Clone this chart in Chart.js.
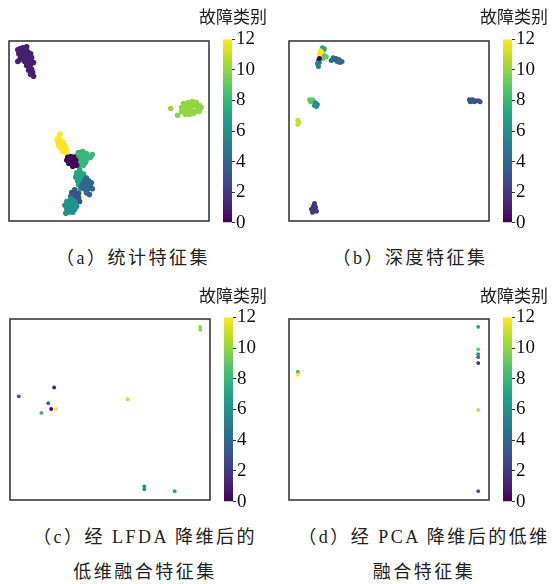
<!DOCTYPE html>
<html>
<head>
<meta charset="utf-8">
<script src="https://cdn.jsdelivr.net/npm/chart.js@4.4.1/dist/chart.umd.min.js"></script>
<style>
  body { margin: 0; background: #fff; width: 552px; height: 584px; position: relative; overflow: hidden; }
  canvas { position: absolute; }
  .cap { position: absolute; font-family: "Liberation Serif", "Times New Roman", "Noto Sans CJK SC", serif; font-size: 18px;
         line-height: 20px; color: #222; letter-spacing: 2.5px; white-space: nowrap; transform: translateX(-50%); }
  .cbt { position: absolute; font-family: "Noto Sans CJK SC", sans-serif; font-size: 17px; line-height: 20px;
         color: #222; white-space: nowrap; transform: translateX(-50%); }
</style>
</head>
<body>
<script>
// [x, y, fault class]
const statPoints = [
  [5.5,88,1],[7,88.5,1],[8.5,88,1],[6,86.5,1],[7.5,86.5,1],[9.5,86.5,1],[6.5,85,1],[8,85,1],[10,84.5,1],
  [7,83.5,1],[8.5,83,1],[10.5,82.5,1],[8,81.5,1],[9.5,81,1],[11,80,1],[9,79.5,1],[10.5,78.5,1],[11.5,77.5,1],
  [10,77,1],[12,76,1],[12.5,74,1],[4.5,81.5,1],[5.5,82.5,1],[11,75,1],[4.5,87.5,1],[5,85.5,1],[6,84,1],
  [9,89,1],[11,85.5,1],[11.5,83.5,1],[12.5,81,1],
  [89.5,59.5,10],[91.5,60.5,10],[93.5,61,10],[95.5,60.5,10],[97,59,10],[90.5,58,10],[92.5,58.5,10],[94.5,59,10],
  [96.5,57.5,10],[98,58,10],[89,56.5,10],[91,56,10],[93,56.5,10],[95,56,10],[97,56,10],[90,54.5,10],[92,54.5,10],
  [94,55,10],[88,58,10],[82.5,57.5,10],[86,54,10],[88,56,10],[89,60,10],
  [25.5,43,12],[24.5,41.5,12],[26,41.5,12],[25,40,12],[26.5,40,12],[27.5,40.5,12],[25.5,38.5,12],[27,38.5,12],
  [28.5,38.5,12],[26.5,37,12],[28,37,12],[29.5,36.5,12],[27.5,35.5,12],[29,35,12],[26,44.5,12],
  [35.5,35,8],[37.5,35.5,8],[39.5,34.5,8],[34.5,33.5,8],[36.5,33.5,8],[38.5,33,8],[40.5,33,8],[35.5,31.5,8],
  [37.5,31.5,8],[39.5,31.5,8],[41.5,32.5,8],[35,30,8],[37,30,8],[39,30,8],[36,28.5,8],[38,28.5,8],[42.5,34,8],[33.5,32,8],
  [30,32.5,0],[31.5,33,0],[33,32.5,0],[29.5,31,0],[31,31,0],[32.5,31,0],[34,31,0],[30.5,29.5,0],[32,29.5,0],
  [33.5,29.5,0],[32.5,28,0],[34.5,28.5,0],
  [36,26,7],[34.5,24.5,7],[36.5,24.5,7],[38,24,7],[34,22.5,7],[36,22.5,7],[38,22,7],[35,20.5,7],[37,20.5,7],
  [39,20,7],[35.5,18.5,7],[37.5,18,7],[36.5,16.5,7],
  [39.5,22,4],[38.5,20.5,4],[40.5,20.5,4],[42,19.5,4],[37.5,18.5,4],[39.5,18.5,4],[41.5,18,4],[38.5,16.5,4],
  [40.5,16.5,4],[42.5,16.5,4],[39.5,14.5,4],[41,13.5,4],[37,17.5,4],
  [33.5,16,3],[32,14.5,3],[34,14.5,3],[35.5,14,3],[31.5,12.5,3],[33.5,12.5,3],[35.5,12,3],[32.5,10.5,3],
  [34.5,10.5,3],[36,10,3],
  [31.5,11.5,6],[29.5,10,6],[31.5,9.5,6],[33.5,10,6],[28.5,8,6],[30.5,8,6],[32.5,8,6],[34.5,7.5,6],[29.5,6,6],
  [31.5,6,6],[33.5,6,6],[30.5,4.5,6],[32.5,4.5,6],[29,4,6]
];
const deepPoints = [
  [15,82,5],[14.5,80.5,5],[15.5,81,5],[15,79,5],
  [17,88.5,7],[18,88,7],[17.5,87,7],
  [16,87,12],[17,86,12],[15.5,85.5,12],[16.5,84.5,12],[16,83.5,12],
  [18,84.5,9],[19,84,9],[17.5,83,9],[15.5,83,0],
  [22.5,83.5,4],[24,83,4],[25.5,82.5,4],[27,81.5,4],[24.5,81.5,4],[23,82.5,4],[21.5,82,4],[26,81,4],
  [10.5,62,9],[12,62,9],[11,61,9],[12.5,61,9],
  [13.5,60.5,6],[14.5,59.5,6],[13,59,6],[14,58.5,6],
  [4.5,51.5,11],[5,50.5,11],[4.5,49.5,11],
  [13,9,2],[12.5,7.5,2],[13.5,7,2],[11.5,6,2],[13,5.5,2],[12,4.5,2],[14,5,2],
  [92,62,3],[93.5,62,3],[95,61.5,3],[96.5,61.5,3],[92.5,61,3],[94.5,61,3],[97.5,61,3]
];
const lfdaPoints = [
  [97,88.5,10],[97,87,10],[4.5,53,3],[22.5,57.5,1],[19.5,49.5,4],[21,46.5,0],[23.5,46.5,12],
  [16,44.5,8],[60,51.5,11],[68.5,7,6],[68.5,5.5,6],[84,4.5,7]
];
const pcaPoints = [
  [96.5,88.5,7],[96.5,77,9],[96.5,74.5,6],[96.5,73,5],[96.5,70,1],[96.5,46,11],[96.5,4.5,3],
  [4.5,65.5,7],[4.5,65,9],[4.5,64,12]
];
const classRange = [0, 12];
const cbTicks = [0, 2, 4, 6, 8, 10, 12];
const cbTitle = '故障类别';
const captions = [
  ['（a）统计特征集'],
  ['（b）深度特征集'],
  ['（c）经 LFDA 降维后的', '低维融合特征集'],
  ['（d）经 PCA 降维后的低维', '融合特征集']
];

const serifFamily = "'Liberation Serif', 'Times New Roman', serif";

const viridisStops = ['#440154','#482475','#414487','#355f8d','#2a788e','#21918c',
                      '#22a884','#44bf70','#7ad151','#bddf26','#fde725'];

function hexRgb(h) {
  return [parseInt(h.slice(1, 3), 16), parseInt(h.slice(3, 5), 16), parseInt(h.slice(5, 7), 16)];
}
function viridis(t) {
  t = Math.max(0, Math.min(1, t));
  const f = t * (viridisStops.length - 1);
  const i = Math.min(Math.floor(f), viridisStops.length - 2);
  const k = f - i;
  const a = hexRgb(viridisStops[i]), b = hexRgb(viridisStops[i + 1]);
  const c = a.map((v, j) => Math.round(v + (b[j] - v) * k));
  return `rgb(${c[0]},${c[1]},${c[2]})`;
}

const boxBorder = {
  id: 'boxBorder',
  afterDraw(chart) {
    const { ctx, chartArea: a } = chart;
    ctx.save();
    ctx.strokeStyle = '#3a3a3a';
    ctx.lineWidth = 1.6;
    ctx.strokeRect(a.left, a.top, a.right - a.left, a.bottom - a.top);
    ctx.restore();
  }
};

const panels = [
  { pts: statPoints, r: 2.8, box: [7, 39, 204, 184], ymax: 92, bar: 223, title: [233, 6], cap: [133, 248] },
  { pts: deepPoints, r: 2.5, box: [287, 39, 204, 184], ymax: 92, bar: 503, title: [514, 6], cap: [410, 248] },
  { pts: lfdaPoints, r: 1.9, box: [8, 317, 204, 185], ymax: 92.5, bar: 224, title: [233, 285], cap: [145, 527] },
  { pts: pcaPoints, r: 1.9, box: [287, 317, 204, 185], ymax: 92.5, bar: 503, title: [514, 285], cap: [424, 527] }
];

function addCanvas(x, y, w, h) {
  const c = document.createElement('canvas');
  c.width = w; c.height = h;
  c.style.left = x + 'px'; c.style.top = y + 'px';
  c.style.width = w + 'px'; c.style.height = h + 'px';
  document.body.appendChild(c);
  return c;
}
function addText(cls, text, cx, top) {
  const d = document.createElement('div');
  d.className = cls;
  d.textContent = text;
  d.style.left = cx + 'px';
  d.style.top = top + 'px';
  document.body.appendChild(d);
}

panels.forEach((p, idx) => {
  const [bx, by, bw, bh] = p.box;
  const pad = 2;
  const sc = addCanvas(bx - pad, by - pad, bw + pad * 2, bh + pad * 2);
  new Chart(sc, {
    type: 'scatter',
    data: {
      datasets: [{
        data: p.pts.map(([x, y, c]) => ({ x, y, c })),
        pointRadius: p.r,
        pointBorderWidth: 0,
        backgroundColor: ctx => viridis((ctx.raw ? ctx.raw.c : 0) / classRange[1])
      }]
    },
    options: {
      responsive: false,
      animation: false,
      devicePixelRatio: 1,
      layout: { padding: pad },
      plugins: { legend: { display: false }, tooltip: { enabled: false } },
      scales: {
        x: { type: 'linear', min: 0, max: 102, display: false },
        y: { type: 'linear', min: 0, max: p.ymax, display: false }
      }
    },
    plugins: [boxBorder]
  });

  // colorbar: one full-height bar with a right-hand axis
  const cbPadV = 12;
  const cb = addCanvas(p.bar, by - cbPadV, 48, bh + cbPadV * 2);
  new Chart(cb, {
    type: 'bar',
    data: {
      labels: [''],
      datasets: [{
        data: [classRange[1]],
        barPercentage: 1,
        categoryPercentage: 1,
        backgroundColor: ctx => {
          const a = ctx.chart.chartArea;
          if (!a) return viridisStops[5];
          const g = ctx.chart.ctx.createLinearGradient(0, a.bottom, 0, a.top);
          viridisStops.forEach((s, i) => g.addColorStop(i / (viridisStops.length - 1), s));
          return g;
        }
      }]
    },
    options: {
      responsive: false,
      animation: false,
      devicePixelRatio: 1,
      layout: { padding: { top: cbPadV, bottom: cbPadV, left: 0, right: 0 } },
      plugins: { legend: { display: false }, tooltip: { enabled: false } },
      scales: {
        x: { display: false },
        y: {
          position: 'right',
          min: classRange[0],
          max: classRange[1],
          afterFit: s => { s.width = 39; },
          afterBuildTicks: s => { s.ticks = cbTicks.map(v => ({ value: v })); },
          border: { display: false },
          grid: { drawOnChartArea: false, drawTicks: true, tickLength: 3, color: '#333' },
          ticks: {
            color: '#111',
            padding: 1,
            font: { family: serifFamily, size: 19 }
          }
        }
      }
    }
  });

  addText('cbt', cbTitle, p.title[0], p.title[1]);
  captions[idx].forEach((line, li) => addText('cap', line, p.cap[0], p.cap[1] + li * 35));
});
</script>
</body>
</html>
